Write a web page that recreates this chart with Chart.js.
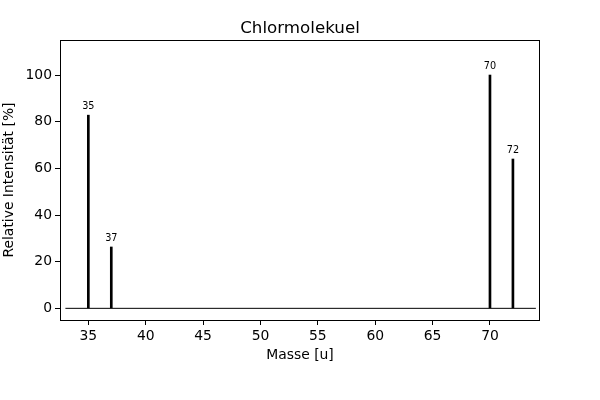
<!DOCTYPE html>
<html>
<head>
<meta charset="utf-8">
<script src="https://cdn.jsdelivr.net/npm/chart.js@4"></script>
<style>
html, body { margin: 0; padding: 0; background: #fff; }
#wrap { width: 600px; height: 400px; }
</style>
</head>
<body>
<div id="wrap"><canvas id="c" width="600" height="400"></canvas></div>
<script>
const masses = [35, 37, 70, 72];
const intensities = [82.8, 26.3, 100, 64];
const peakLabels = ['35', '37', '70', '72'];
const xTicks = [35, 40, 45, 50, 55, 60, 65, 70];
const yTicks = [0, 20, 40, 60, 80, 100];
const baselineX = [33, 74];

const FONT = "'DejaVu Sans', sans-serif";

const frame = {
  id: 'frame',
  afterDraw(chart) {
    const a = chart.chartArea, ctx = chart.ctx;
    ctx.save();
    ctx.strokeStyle = '#000';
    ctx.lineWidth = 1;
    ctx.strokeRect(Math.round(a.left) + 0.5, Math.round(a.top) + 0.5,
                   Math.round(a.right - a.left) - 1, Math.round(a.bottom - a.top));
    ctx.restore();
  }
};

const peakText = {
  id: 'peakText',
  afterDatasetsDraw(chart) {
    const meta = chart.getDatasetMeta(0);
    const ctx = chart.ctx;
    ctx.save();
    ctx.fillStyle = '#000';
    ctx.font = '9.7px ' + FONT;
    ctx.textAlign = 'center';
    ctx.textBaseline = 'bottom';
    meta.data.forEach((el, i) => {
      ctx.fillText(peakLabels[i], el.x, el.y - 4);
    });
    ctx.restore();
  }
};

new Chart(document.getElementById('c'), {
  type: 'bar',
  data: {
    datasets: [
      {
        type: 'bar',
        data: masses.map((m, i) => ({ x: m, y: intensities[i] })),
        backgroundColor: '#000',
        borderWidth: 0,
        barThickness: 2,
        order: 1
      },
      {
        type: 'line',
        data: baselineX.map(x => ({ x: x, y: 0 })),
        borderColor: '#000',
        borderWidth: 1,
        pointRadius: 0,
        fill: false,
        order: 2
      }
    ]
  },
  plugins: [frame, peakText],
  options: {
    responsive: false,
    animation: false,
    layout: { padding: { left: 0, right: 0, top: 0, bottom: 32 } },
    plugins: {
      legend: { display: false },
      tooltip: { enabled: false },
      title: {
        display: true,
        text: 'Chlormolekuel',
        color: '#000',
        font: { family: FONT, size: 16.7, weight: 'normal' },
        padding: { top: 19, bottom: 1 }
      }
    },
    scales: {
      x: {
        type: 'linear',
        offset: false,
        min: 32.53,
        max: 74.36,
        afterBuildTicks(s) { s.ticks = xTicks.map(v => ({ value: v })); },
        afterFit(s) { s.height = 48; },
        ticks: { color: '#000', font: { family: FONT, size: 13.9 }, padding: 3, maxRotation: 0 },
        grid: { display: true, offset: false, drawOnChartArea: false, drawTicks: true, tickLength: 5, color: '#000' },
        border: { display: false },
        title: { display: true, text: 'Masse [u]', color: '#000', font: { family: FONT, size: 13.9 }, padding: { top: 4, bottom: 4 } }
      },
      y: {
        type: 'linear',
        position: 'left',
        min: -5,
        max: 115,
        afterBuildTicks(s) { s.ticks = yTicks.map(v => ({ value: v })); },
        afterFit(s) { s.width = 60; },
        ticks: { color: '#000', font: { family: FONT, size: 13.9 }, padding: 3 },
        grid: { display: true, drawOnChartArea: false, drawTicks: true, tickLength: 5, color: '#000' },
        border: { display: false },
        title: { display: true, text: 'Relative Intensität [%]', color: '#000', font: { family: FONT, size: 13.9 }, padding: { top: 1, bottom: 4 } }
      },
      yRight: {
        type: 'linear',
        position: 'right',
        min: -5,
        max: 115,
        afterFit(s) { s.width = 60; },
        ticks: { display: false },
        grid: { display: false },
        border: { display: false }
      }
    }
  }
});
</script>
</body>
</html>
